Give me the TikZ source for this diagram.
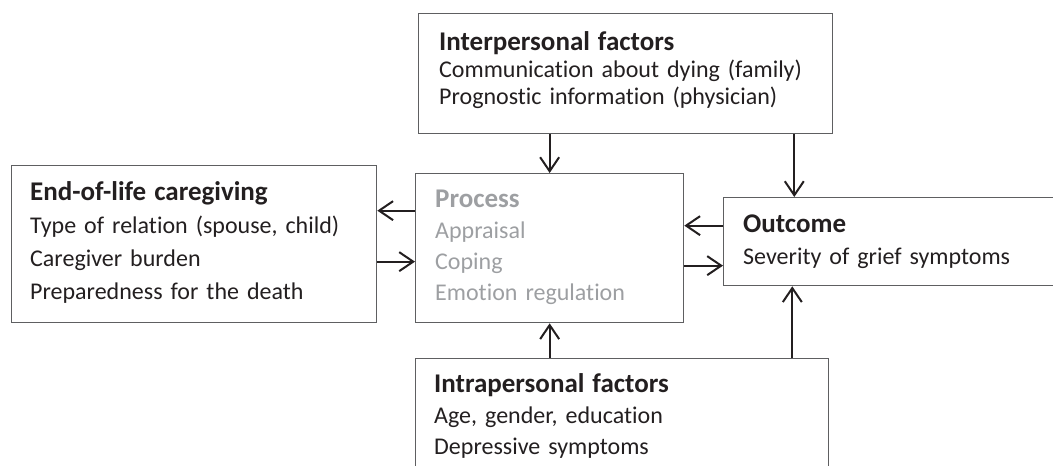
\documentclass[tikz,border=0pt]{standalone}
\usepackage{fontspec}
\setmainfont{Carlito}[Ligatures=NoCommon]
\usetikzlibrary{arrows.meta}
\definecolor{inkdark}{HTML}{231F20}
\definecolor{framegray}{HTML}{5E5F61}
\definecolor{procgray}{HTML}{9D9FA2}
\newcommand{\boxhead}[1]{{\fontsize{27}{27}\selectfont\bfseries #1}}

\begin{document}
\begin{tikzpicture}[x=1pt,y=-1pt,
		box/.style={draw=framegray,line width=1.3pt,rectangle,inner sep=0pt,anchor=north west},
		lines/.style={anchor=base west,inner sep=0pt,align=left,text width=420pt,text=inkdark,font=\fontsize{24}{32}\selectfont},
		arr/.style={draw=inkdark,line width=2pt,-{Straight Barb[length=14pt,width=19pt]}}]
	
	\useasboundingbox (0,0) rectangle (1053,466);
	\clip (0,0) rectangle (1053,466);
	
	% boxes
	\node[box,minimum width=414pt,minimum height=120pt] (inter) at (418,13) {};
	\node[box,minimum width=365pt,minimum height=157pt] (care) at (11,165) {};
	\node[box,minimum width=268pt,minimum height=149pt] (proc) at (415,173) {};
	\node[box,minimum width=337pt,minimum height=88pt] (outc) at (723,197) {};
	\node[box,minimum width=413pt,minimum height=122pt] (intra) at (415,358) {};
	
	% texts
	\node[lines,font=\fontsize{24}{27}\selectfont] (intertxt) at ([xshift=21pt,yshift=-37pt]inter.north west)
		{\boxhead{Interpersonal factors}\\Communication about dying (family)\\Prognostic information (physician)};
	\node[lines,font=\fontsize{24}{33}\selectfont] (caretxt) at ([xshift=19pt,yshift=-35pt]care.north west)
		{\boxhead{End-of-life caregiving}\\Type of relation (spouse, child)\\Caregiver burden\\Preparedness for the death};
	\node[lines,text=procgray,font=\fontsize{24}{31}\selectfont] (proctxt) at ([xshift=20pt,yshift=-34pt]proc.north west)
		{\boxhead{Process}\\Appraisal\\Coping\\Emotion regulation};
	\node[lines] (outctxt) at ([xshift=20pt,yshift=-35pt]outc.north west)
		{\boxhead{Outcome}\\Severity of grief symptoms};
	\node[lines,font=\fontsize{24}{31}\selectfont] (intratxt) at ([xshift=19pt,yshift=-34pt]intra.north west)
		{\boxhead{Intrapersonal factors}\\Age, gender, education\\Depressive symptoms};
	
	% arrows
	\draw[arr] (proc.north |- inter.south) -- (proc.north);
	\draw[arr] ([xshift=-39pt]inter.south east) -- ([xshift=-39pt]inter.south east |- outc.north);
	\draw[arr] (proc.south |- intra.north) -- (proc.south);
	\draw[arr] ([xshift=-37pt]intra.north east) -- ([xshift=-37pt]intra.north east |- outc.south);
	\draw[arr] ([yshift=37.5pt]proc.west) -- ([yshift=37.5pt]proc.west -| care.east);
	\draw[arr] ([yshift=-13.5pt]proc.west -| care.east) -- ([yshift=-13.5pt]proc.west);
	\draw[arr] ([yshift=16pt]outc.west) -- ([yshift=16pt]outc.west -| proc.east);
	\draw[arr] ([yshift=-24pt]outc.west -| proc.east) -- ([yshift=-24pt]outc.west);
	
\end{tikzpicture}
\end{document}
